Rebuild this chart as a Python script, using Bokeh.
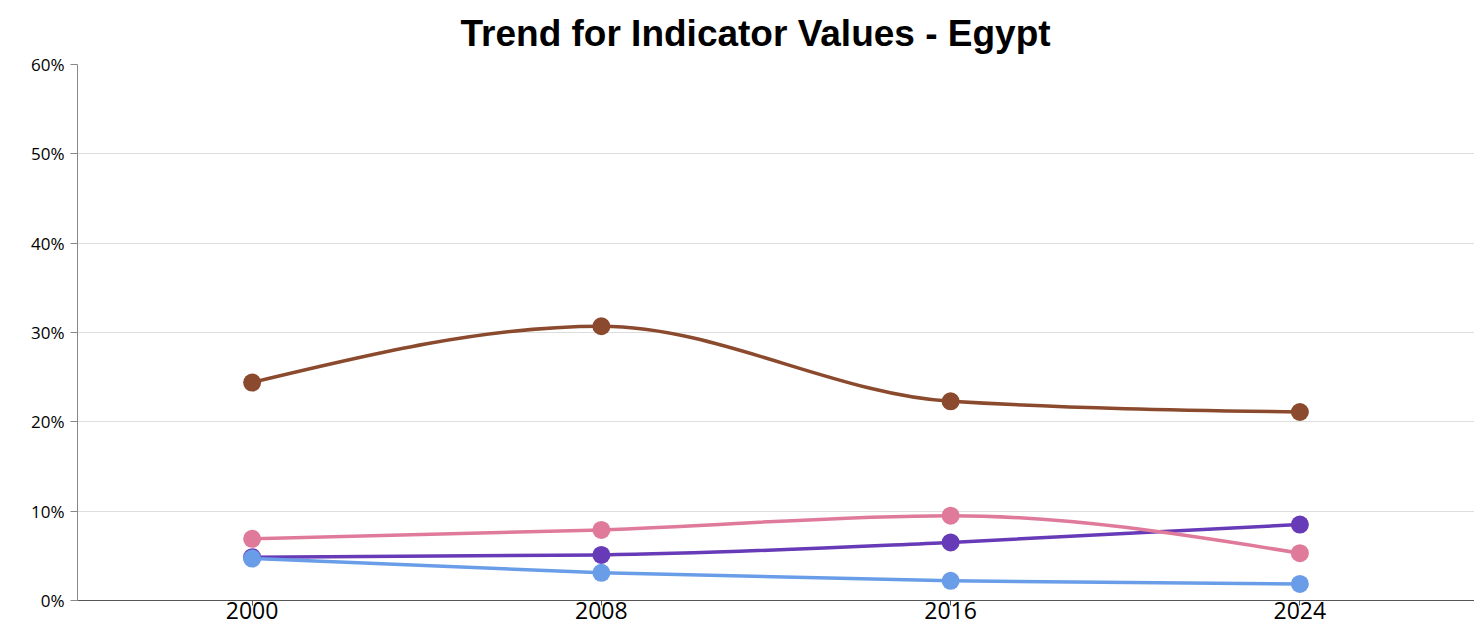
import numpy as np
from bokeh.plotting import figure
from bokeh.models import Range1d, FixedTicker, PrintfTickFormatter, Title
from bokeh.embed import file_html
from bokeh.resources import INLINE

# ---- data ----
years = [2000, 2008, 2016, 2024]
year_labels = ["2000", "2008", "2016", "2024"]
brown_values = [24.4, 30.7, 22.3, 21.1]
purple_values = [4.85, 5.1, 6.5, 8.5]
pink_values = [6.9, 7.9, 9.5, 5.3]
blue_values = [4.7, 3.1, 2.2, 1.85]
y_ticks = [0, 10, 20, 30, 40, 50, 60]

series = [
    (brown_values, "#8b4a2e"),
    (purple_values, "#673ab7"),
    (pink_values, "#e07a9b"),
    (blue_values, "#6a9de8"),
]


def _sign(v):
    return -1.0 if v < 0 else 1.0


def monotone_segments(xs, ys):
    """Cubic bezier control points of a monotone-x curve (as d3.curveMonotoneX)."""
    n = len(xs)
    h = [xs[i + 1] - xs[i] for i in range(n - 1)]
    s = [(ys[i + 1] - ys[i]) / h[i] for i in range(n - 1)]
    t = [0.0] * n
    for i in range(1, n - 1):
        h0, h1 = h[i - 1], h[i]
        s0, s1 = s[i - 1], s[i]
        p = (s0 * h1 + s1 * h0) / (h0 + h1)
        t[i] = (_sign(s0) + _sign(s1)) * min(abs(s0), abs(s1), 0.5 * abs(p))
    t[0] = (3 * s[0] - t[1]) / 2
    t[-1] = (3 * s[-1] - t[-2]) / 2
    seg = dict(x0=[], y0=[], x1=[], y1=[], cx0=[], cy0=[], cx1=[], cy1=[])
    for i in range(n - 1):
        dx = h[i] / 3
        seg["x0"].append(xs[i]); seg["y0"].append(ys[i])
        seg["x1"].append(xs[i + 1]); seg["y1"].append(ys[i + 1])
        seg["cx0"].append(xs[i] + dx); seg["cy0"].append(ys[i] + dx * t[i])
        seg["cx1"].append(xs[i + 1] - dx); seg["cy1"].append(ys[i + 1] - dx * t[i + 1])
    return seg


title = Title(
    text="Trend for Indicator Values - Egypt",
    align="left",
    offset=383,
    standoff=21,
    text_font="Liberation Sans",
    text_font_size="37px",
    text_font_style="bold",
    text_color="#000000",
)

p = figure(
    width=1474,
    height=632,
    output_backend="svg",
    toolbar_location=None,
    title=title,
    x_range=Range1d(1996, 2028),
    y_range=Range1d(0, 60),
    min_border_left=77,
    min_border_right=0,
    min_border_top=10,
    min_border_bottom=32,
)
p.outline_line_color = None

for vals, color in series:
    seg = monotone_segments(years, vals)
    p.bezier(line_color=color, line_width=3.5, line_cap="round", **seg)
for vals, color in series:
    p.scatter(years, vals, size=18, fill_color=color, line_color=color, line_width=0)

# axes
p.xaxis.ticker = FixedTicker(ticks=years)
p.xaxis.major_label_overrides = {y: l for y, l in zip(years, year_labels)}
p.xaxis.axis_line_color = "#555555"
p.xaxis.major_tick_line_color = "#555555"
p.xaxis.major_tick_out = 5
p.xaxis.major_tick_in = 0
p.xaxis.minor_tick_line_color = None
p.xaxis.major_label_standoff = -4
p.xaxis.major_label_text_font = "Open Sans"
p.xaxis.major_label_text_font_size = "23px"
p.xaxis.major_label_text_color = "#000000"

p.yaxis.ticker = FixedTicker(ticks=y_ticks)
p.yaxis.formatter = PrintfTickFormatter(format="%d%%")
p.yaxis.axis_line_color = "#888888"
p.yaxis.major_tick_line_color = "#888888"
p.yaxis.major_tick_out = 7
p.yaxis.major_tick_in = 0
p.yaxis.minor_tick_line_color = None
p.yaxis.major_label_standoff = 6
p.yaxis.major_label_text_font = "Open Sans"
p.yaxis.major_label_text_font_size = "17px"
p.yaxis.major_label_text_color = "#000000"

p.xgrid.grid_line_color = None
p.ygrid.grid_line_color = "#dddddd"
p.ygrid.grid_line_width = 1

open("out.html", "w").write(file_html(p, INLINE))
